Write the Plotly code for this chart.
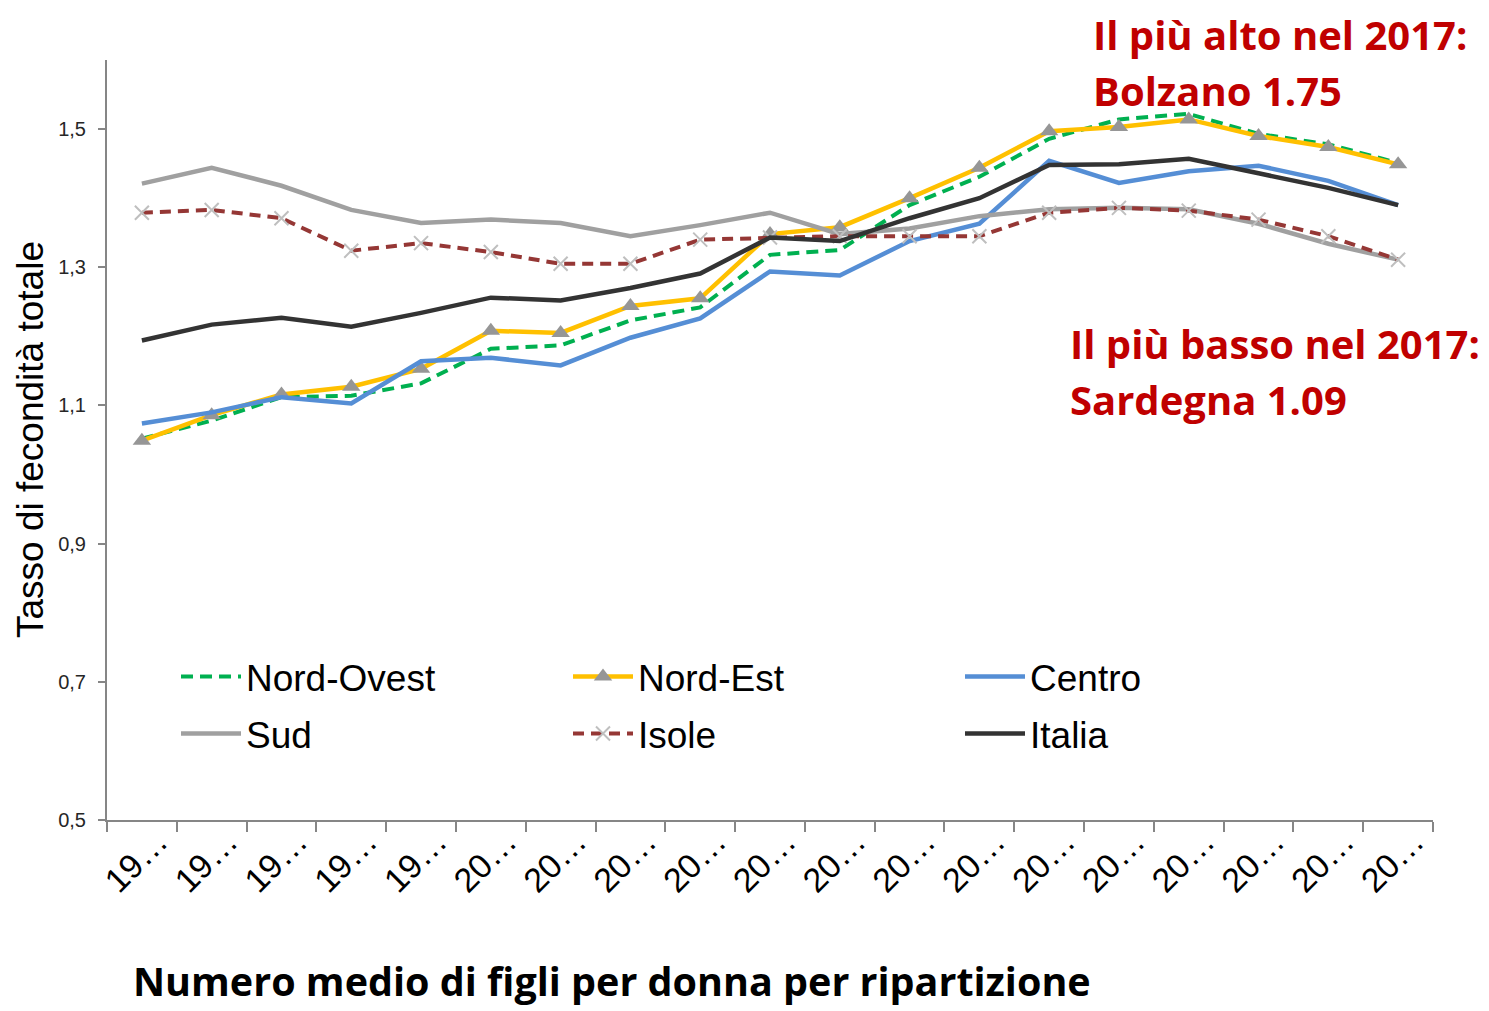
import plotly.graph_objects as go

years = [str(y) for y in range(1995, 2014)]
tick_labels = ["19…"] * 5 + ["20…"] * 14

nord_ovest = [1.052, 1.078, 1.112, 1.114, 1.132, 1.182, 1.187, 1.223, 1.242, 1.318,
              1.325, 1.390, 1.431, 1.486, 1.514, 1.522, 1.493, 1.478, 1.451]
nord_est = [1.049, 1.086, 1.116, 1.127, 1.153, 1.208, 1.205, 1.244, 1.255, 1.348,
            1.358, 1.400, 1.444, 1.497, 1.503, 1.514, 1.490, 1.474, 1.449]
centro = [1.074, 1.090, 1.112, 1.103, 1.164, 1.169, 1.158, 1.198, 1.226, 1.294,
          1.288, 1.338, 1.363, 1.454, 1.422, 1.439, 1.447, 1.425, 1.390]
sud = [1.421, 1.444, 1.418, 1.383, 1.364, 1.369, 1.364, 1.345, 1.361, 1.379,
       1.348, 1.356, 1.374, 1.384, 1.386, 1.384, 1.363, 1.334, 1.311]
isole = [1.379, 1.383, 1.371, 1.324, 1.335, 1.322, 1.305, 1.305, 1.340, 1.343,
         1.345, 1.345, 1.345, 1.379, 1.386, 1.382, 1.369, 1.345, 1.311]
italia = [1.194, 1.217, 1.227, 1.214, 1.234, 1.256, 1.252, 1.270, 1.291, 1.343,
          1.338, 1.371, 1.400, 1.448, 1.449, 1.457, 1.436, 1.415, 1.390]

fig = go.Figure()
fig.add_trace(go.Scatter(x=years, y=nord_ovest, name="Nord-Ovest", mode="lines",
                         line=dict(color="#00B050", width=4, dash="12px,7px"), legend="legend"))
fig.add_trace(go.Scatter(x=years, y=nord_est, name="Nord-Est", mode="lines+markers",
                         line=dict(color="#FFC000", width=4.5),
                         marker=dict(symbol="triangle-up", size=16, color="#969696"), legend="legend"))
fig.add_trace(go.Scatter(x=years, y=centro, name="Centro", mode="lines",
                         line=dict(color="#558ED5", width=4.5), legend="legend"))
fig.add_trace(go.Scatter(x=years, y=sud, name="Sud", mode="lines",
                         line=dict(color="#A0A0A0", width=4.5), legend="legend2"))
fig.add_trace(go.Scatter(x=years, y=isole, name="Isole", mode="lines+markers",
                         line=dict(color="#953735", width=4, dash="11px,7px"),
                         marker=dict(symbol="x-thin", size=14, line=dict(color="#BFBFBF", width=2)),
                         legend="legend2"))
fig.add_trace(go.Scatter(x=years, y=italia, name="Italia", mode="lines",
                         line=dict(color="#333333", width=4.5), legend="legend2"))

# page offset of the plot div (default body margin)
OFF = 8
W, H = 1489 - OFF, 1011 - OFF
# plot area in page pixels: x 107..1433, y 60..820
L = 107 - OFF
T = 60 - OFF
R = W - (1433 - OFF)
B = H - (820 - OFF)
pw, ph = W - L - R, H - T - B

def px(x):
    return (x - OFF - L) / pw

def py(y):
    return (H - B - (y - OFF)) / ph

legend_font = dict(family="Liberation Sans, Arial, sans-serif", size=37, color="#000000")
common_leg = dict(orientation="h", xanchor="left", yanchor="middle", font=legend_font,
                  entrywidth=317, entrywidthmode="pixels", bgcolor="rgba(0,0,0,0)",
                  itemwidth=60, traceorder="normal")

fig.update_layout(
    width=W, height=H,
    margin=dict(l=L, r=R, t=T, b=B, autoexpand=False),
    paper_bgcolor="white", plot_bgcolor="white",
    separators=",.",
    showlegend=True,
    legend=dict(x=px(176), y=py(677), **common_leg),
    legend2=dict(x=px(176), y=py(734), **common_leg),
    xaxis=dict(
        type="category", tickmode="array", tickvals=years, ticktext=tick_labels,
        range=[-0.5, len(years) - 0.5], autorange=False,
        tickangle=-45, tickson="boundaries", ticks="outside", ticklen=10, tickwidth=2,
        tickcolor="#868686", showline=True, linecolor="#868686", linewidth=2,
        showgrid=False, zeroline=False, ticklabelshift=16, ticklabelstandoff=-14,
        tickfont=dict(family="Liberation Sans, Arial, sans-serif", size=34, color="#000000"),
    ),
    yaxis=dict(
        range=[0.5, 1.6], autorange=False, tick0=0.5, dtick=0.2, tickformat=".1f",
        ticks="outside", ticklen=7, tickwidth=2, tickcolor="#868686",
        showline=True, linecolor="#868686", linewidth=2, showgrid=False, zeroline=False,
        ticklabelstandoff=8,
        tickfont=dict(family="Liberation Sans, Arial, sans-serif", size=20, color="#262626"),
    ),
)

red = "#C00000"
red_font = dict(family="Open Sans, sans-serif", size=40, color=red, weight="bold")
annos = [
    dict(text="Il più alto nel 2017:", x=px(1091), y=py(35)),
    dict(text="Bolzano 1.75", x=px(1091), y=py(90)),
    dict(text="Il più basso nel 2017:", x=px(1068), y=py(343)),
    dict(text="Sardegna 1.09", x=px(1068), y=py(400)),
]
for a in annos:
    fig.add_annotation(xref="paper", yref="paper", xanchor="left", yanchor="middle",
                       showarrow=False, font=red_font, **a)

fig.add_annotation(text="Numero medio di figli per donna per ripartizione",
                   xref="paper", yref="paper", x=px(131), y=py(1010),
                   xanchor="left", yanchor="bottom", showarrow=False,
                   font=dict(family="Open Sans, sans-serif", size=39.5, color="#000000", weight="bold"))

fig.add_annotation(text="Tasso di fecondità totale", xref="paper", yref="paper",
                   x=px(30), y=py(440), xanchor="center", yanchor="middle",
                   textangle=-90, showarrow=False,
                   font=dict(family="Liberation Sans, Arial, sans-serif", size=37, color="#000000"))

fig.write_html("out.html")
